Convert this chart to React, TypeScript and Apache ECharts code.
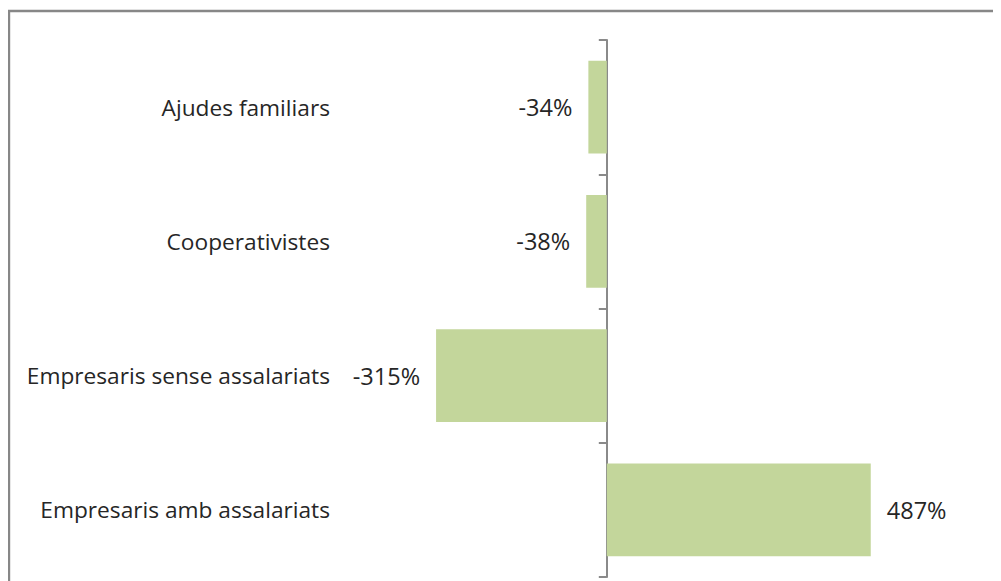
import React, { useEffect, useRef } from "react";
import * as echarts from "echarts";

const categories = [
  "Ajudes familiars",
  "Cooperativistes",
  "Empresaris sense assalariats",
  "Empresaris amb assalariats",
];
const values = [-34, -38, -315, 487];

const FONT = "Open Sans";

export default function App() {
  const ref = useRef<HTMLDivElement>(null);
  useEffect(() => {
    if (!ref.current) return;
    const chart = echarts.init(ref.current, undefined, { renderer: "svg" });
    chart.setOption({
      animation: false,
      backgroundColor: "#ffffff",
      grid: {
        left: 382,
        width: 542,
        top: 32,
        bottom: 4,
        containLabel: false,
        outerBoundsMode: "none",
      },
      xAxis: {
        type: "value",
        min: -400,
        max: 600,
        show: false,
        splitLine: { show: false },
      },
      yAxis: {
        type: "category",
        data: categories,
        inverse: true,
        axisLine: { show: true, onZero: true, lineStyle: { color: "#8a8a8a", width: 2 } },
        axisTick: { show: true, length: 8, lineStyle: { color: "#8a8a8a", width: 2 } },
        axisLabel: {
          margin: 60,
          color: "#262626",
          fontFamily: FONT,
          fontSize: 22.7,
          align: "right",
        },
      },
      graphic: [
        {
          type: "rect",
          shape: { x: 1, y: 3, width: 3000, height: 3000 },
          style: { fill: "none", stroke: "#878787", lineWidth: 2.4 },
          silent: true,
        },
      ],
      series: [
        {
          type: "bar",
          data: values.map((v) => ({
            value: v,
            label: { position: v < 0 ? "left" : "right" },
          })),
          barCategoryGap: "31%",
          itemStyle: { color: "#C3D69B" },
          label: {
            show: true,
            distance: 16,
            formatter: (p: any) => `${p.value}%`,
            color: "#262626",
            fontFamily: FONT,
            fontSize: 23.5,
          },
        },
      ],
    });
    return () => chart.dispose();
  }, []);
  return <div ref={ref} style={{ width: 993, height: 573 }} />;
}
